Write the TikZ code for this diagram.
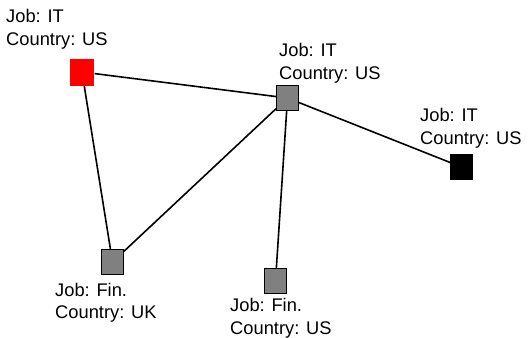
\documentclass[tikz,border=0pt]{standalone}
\usepackage{fontspec}
\setmainfont{Liberation Sans}
\begin{document}
\begin{tikzpicture}[x=1pt,y=-1pt,
  sq/.style={draw=black, line width=1.4pt, minimum width=21.5pt, minimum height=24.5pt, inner sep=0pt, fill=graybox},
  lbl/.style={anchor=base west, align=left, inner sep=0pt, font=\fontsize{18.3}{22.5}\selectfont},
  edge/.style={draw=black, line width=1.6pt}]
\definecolor{graybox}{HTML}{808080}
\useasboundingbox (0,0) rectangle (529,337);
\node[sq, fill=red, draw=none, minimum width=24pt, minimum height=27pt] (r) at (82,72) {};
\node[sq] (g) at (287.5,98) {};
\node[sq, fill=black] (b) at (461.5,167) {};
\node[sq] (uk) at (112.5,262) {};
\node[sq] (us) at (275.5,281) {};
\draw[edge] (r) -- (g);
\draw[edge] (r) -- (uk);
\draw[edge] (uk) -- (g);
\draw[edge] (g) -- (us);
\draw[edge] (g) -- (b);
\node[lbl] (l1) at (6,45.2) {Job: IT\\Country: US};
\node[lbl] (l2) at (279,79) {Job: IT\\Country: US};
\node[lbl] (l3) at (420,144) {Job: IT\\Country: US};
\node[lbl] (l4) at (55,318.5) {Job: Fin.\\Country: UK};
\node[lbl] (l5) at (230,334) {Job: Fin.\\Country: US};
\end{tikzpicture}
\end{document}
